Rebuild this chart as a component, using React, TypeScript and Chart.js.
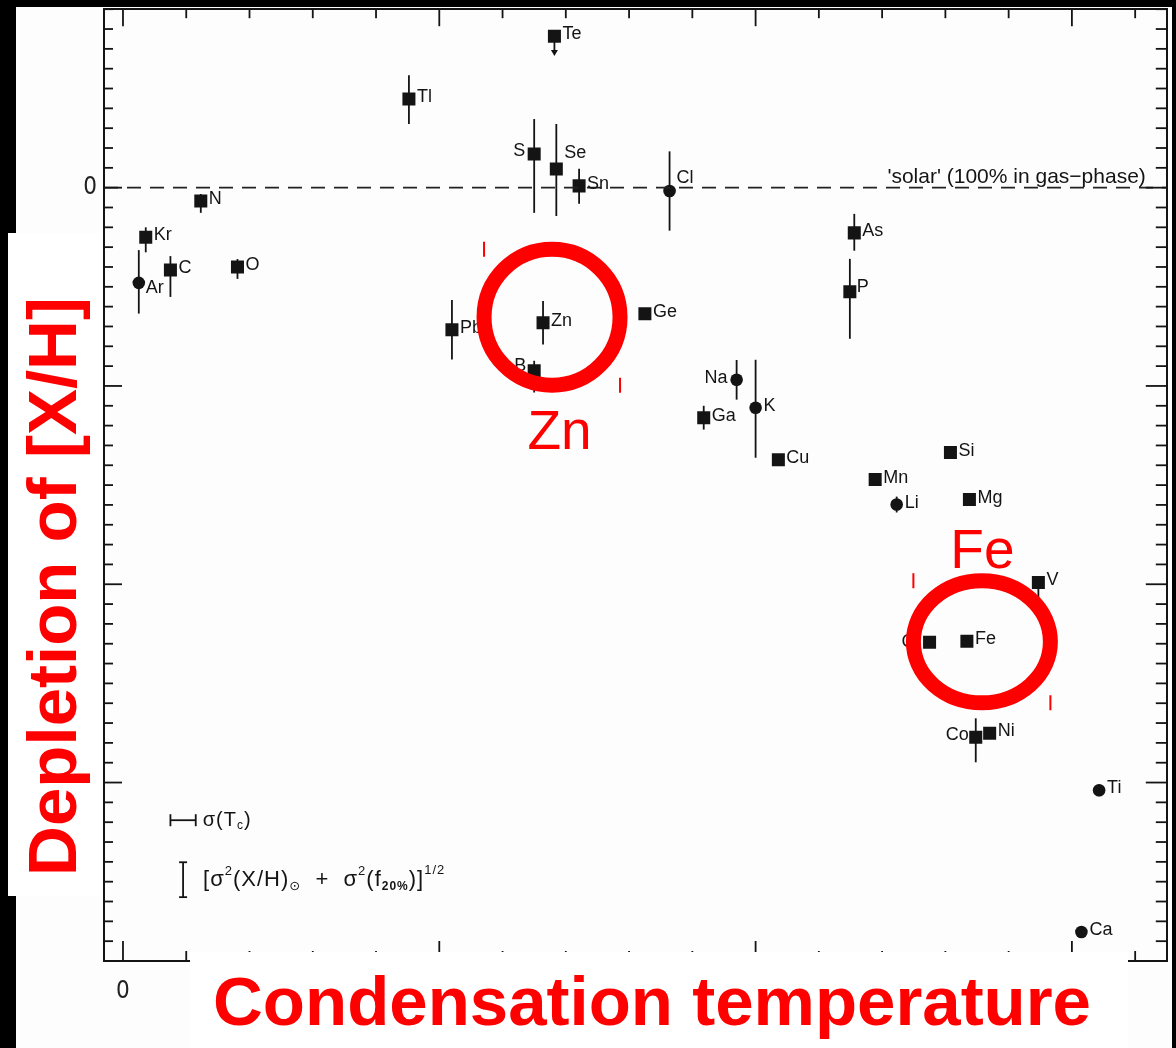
import React, { useEffect, useRef } from 'react';
import { Chart, registerables } from 'chart.js';

Chart.register(...registerables);

// ---------------- data ----------------
const elements = ['Kr', 'Ar', 'C', 'N', 'O', 'Tl', 'Te', 'S', 'Se', 'Sn', 'Cl', 'Pb', 'Zn', 'B', 'Ge', 'Na', 'K', 'Ga', 'Cu', 'As', 'P', 'Mn', 'Li', 'Si', 'Mg', 'V', 'Cr', 'Fe', 'Co', 'Ni', 'Ti', 'Ca'];
const condensationTemp = [36, 25, 75, 123, 181, 452, 682, 650, 685, 721, 864, 520, 664, 650, 825, 970, 1000, 918, 1036, 1156, 1149, 1189, 1223, 1308, 1338, 1447, 1275, 1334, 1348, 1370, 1543, 1515];
const depletion = [-0.25, -0.48, -0.415, -0.067, -0.4, 0.447, 0.764, 0.17, 0.094, 0.009, -0.017, -0.717, -0.681, -0.923, -0.636, -0.969, -1.11, -1.16, -1.372, -0.228, -0.525, -1.472, -1.598, -1.336, -1.573, -1.991, -2.293, -2.288, -2.772, -2.752, -3.039, -3.754];
const errorUp = [0.05, 0.165, 0.07, 0.035, 0.04, 0.12, 0, 0.176, 0.227, 0.086, 0.2, 0.15, 0.11, 0.05, 0, 0.1, 0.242, 0.06, 0, 0.096, 0.166, 0, 0.04, 0, 0, 0, 0, 0, 0.096, 0, 0.03, 0.03];
const errorDown = [0.076, 0.155, 0.136, 0.06, 0.06, 0.126, 0, 0.297, 0.237, 0.09, 0.2, 0.15, 0.11, 0.11, 0, 0.1, 0.252, 0.06, 0, 0.09, 0.237, 0, 0.04, 0, 0, 0.08, 0, 0, 0.126, 0, 0.03, 0.03];
const markerShape = ['rect', 'circle', 'rect', 'rect', 'rect', 'rect', 'rect', 'rect', 'rect', 'rect', 'circle', 'rect', 'rect', 'rect', 'rect', 'circle', 'circle', 'rect', 'rect', 'rect', 'rect', 'rect', 'circle', 'rect', 'rect', 'rect', 'rect', 'rect', 'rect', 'rect', 'circle', 'circle'];
const upperLimitElements = ['Te'];
const upperLimitArrow = 0.1;

// representative error bars shown in the key
const keyTemp = 95;
const keyTcSigma = 20;
const keyTcBarDepletion = -3.19;
const keyDepBarDepletion = -3.49;
const keyDepSigma = 0.088;

// axes
const xRange = [-30, 1650];
const yRange = [-3.9, 0.9];
const xTickLabels = [0];
const yTickLabels = [0];
const xMajorTicks = [0, 500, 1000, 1500];
const xMinorTicks = [0, 100, 200, 300, 400, 500, 600, 700, 800, 900, 1000, 1100, 1200, 1300, 1400, 1500, 1600];
const yMajorTicks = [0, -1, -2, -3];
const yMinorTicks = Array.from({ length: 49 }, (_, i) => Math.round((0.9 - i * 0.1) * 10) / 10);

const solarLabel = "'solar' (100% in gas\u2212phase)";
const xTitle = 'Condensation temperature';
const yTitle = 'Depletion of [X/H]';

// ---------------- styling / placement ----------------
const W = 1176;
const H = 1048;
const textFont = '"Liberation Sans", "DejaVu Sans", sans-serif';
const tickFont = '"Liberation Sans Narrow", "DejaVu Sans Condensed", "Liberation Sans", sans-serif';
const INK = '#141414';
const RED = '#ff0000';

const labelPlacement: Record<string, { dx: number; dy: number; align: CanvasTextAlign }> = {
  Ar: { dx: 7, dy: 5, align: 'left' },
  S: { dx: -9, dy: -3, align: 'right' },
  Se: { dx: 8, dy: -16, align: 'left' },
  Cl: { dx: 7, dy: -13, align: 'left' },
  B: { dx: -8, dy: -5, align: 'right' },
  Na: { dx: -9, dy: -2, align: 'right' },
  P: { dx: 7, dy: -5, align: 'left' },
  Cr: { dx: -9, dy: 0, align: 'right' },
  Co: { dx: -7, dy: -2, align: 'right' },
};
const defaultPlacement = { dx: 8, dy: -2, align: 'left' as CanvasTextAlign };

const highlights = [
  { element: 'Zn', ringDx: 9, ringDy: -5.5, rx: 68, ry: 68, textDx: 16.5, textBaseDy: 126 },
  { element: 'Fe', ringDx: 15, ringDy: 0.5, rx: 68.5, ry: 61, textDx: 15.5, textBaseDy: -73 },
];

function drawRich(ctx: CanvasRenderingContext2D, x: number, y: number, segs: { t: string; size: number; dy?: number; bold?: boolean }[]) {
  let cx = x;
  ctx.textAlign = 'left';
  ctx.textBaseline = 'middle';
  for (const s of segs) {
    ctx.font = `${s.bold ? 'bold ' : ''}${s.size}px ${textFont}`;
    ctx.fillText(s.t, cx, y + (s.dy || 0));
    cx += ctx.measureText(s.t).width;
  }
}

const figurePlugin = {
  id: 'figurePlugin',
  beforeDraw(chart: any) {
    const ctx = chart.ctx;
    ctx.save();
    ctx.fillStyle = '#fdfdfd';
    ctx.fillRect(0, 0, W, H);
    ctx.restore();
  },
  beforeDatasetsDraw(chart: any) {
    const ctx: CanvasRenderingContext2D = chart.ctx;
    const xs = chart.scales.x;
    const ys = chart.scales.y;
    ctx.save();
    ctx.strokeStyle = INK;
    ctx.fillStyle = INK;
    ctx.lineWidth = 1.8;
    elements.forEach((el, i) => {
      const px = xs.getPixelForValue(condensationTemp[i]);
      if (errorUp[i] > 0 || errorDown[i] > 0) {
        ctx.beginPath();
        ctx.moveTo(px, ys.getPixelForValue(depletion[i] + errorUp[i]));
        ctx.lineTo(px, ys.getPixelForValue(depletion[i] - errorDown[i]));
        ctx.stroke();
      }
      if (upperLimitElements.includes(el)) {
        const y0 = ys.getPixelForValue(depletion[i]);
        const y1 = ys.getPixelForValue(depletion[i] - upperLimitArrow);
        ctx.beginPath();
        ctx.moveTo(px, y0);
        ctx.lineTo(px, y1 - 4);
        ctx.stroke();
        ctx.beginPath();
        ctx.moveTo(px - 3.5, y1 - 6);
        ctx.lineTo(px + 3.5, y1 - 6);
        ctx.lineTo(px, y1);
        ctx.closePath();
        ctx.fill();
      }
    });
    ctx.restore();
  },
  afterDatasetsDraw(chart: any) {
    const ctx: CanvasRenderingContext2D = chart.ctx;
    const xs = chart.scales.x;
    const ys = chart.scales.y;
    const area = chart.chartArea;
    ctx.save();
    // element labels
    ctx.fillStyle = INK;
    ctx.font = `18px ${textFont}`;
    ctx.textBaseline = 'middle';
    elements.forEach((el, i) => {
      const p = labelPlacement[el] || defaultPlacement;
      const px = xs.getPixelForValue(condensationTemp[i]);
      const py = ys.getPixelForValue(depletion[i]);
      ctx.textAlign = p.align;
      ctx.fillText(el, px + p.dx, py + p.dy);
    });

    // inward tick marks on all four sides
    ctx.strokeStyle = INK;
    const tick = (x1: number, y1: number, x2: number, y2: number, w: number) => {
      ctx.lineWidth = w;
      ctx.beginPath();
      ctx.moveTo(x1, y1);
      ctx.lineTo(x2, y2);
      ctx.stroke();
    };
    xMinorTicks.forEach((v) => {
      const px = xs.getPixelForValue(v);
      const major = xMajorTicks.includes(v);
      tick(px, area.top, px, area.top + (major ? 17 : 9), 1.8);
      tick(px, area.bottom, px, area.bottom - (major ? 20 : 10), 1.8);
    });
    yMinorTicks.forEach((v) => {
      const py = ys.getPixelForValue(v);
      const major = yMajorTicks.includes(v);
      tick(area.left, py, area.left + (major ? 18 : 9), py, 1.8);
      tick(area.right, py, area.right - (major ? 21 : 11), py, 1.8);
    });

    // 'solar' label on the dashed line
    ctx.fillStyle = INK;
    ctx.font = `21px ${textFont}`;
    ctx.textAlign = 'right';
    ctx.textBaseline = 'middle';
    ctx.fillText(solarLabel, area.right - 21, ys.getPixelForValue(0) - 10);

    // key: representative error bars
    const kx = xs.getPixelForValue(keyTemp);
    const kx1 = xs.getPixelForValue(keyTemp - keyTcSigma);
    const kx2 = xs.getPixelForValue(keyTemp + keyTcSigma);
    const ky = ys.getPixelForValue(keyTcBarDepletion);
    tick(kx1, ky, kx2, ky, 1.8);
    tick(kx1, ky - 6, kx1, ky + 6, 1.8);
    tick(kx2, ky - 6, kx2, ky + 6, 1.8);
    (ctx as any).letterSpacing = '1px';
    drawRich(ctx, kx2 + 7, ky, [
      { t: '\u03c3(T', size: 20 },
      { t: 'c', size: 12, dy: 5 },
      { t: ')', size: 20 },
    ]);
    const vy1 = ys.getPixelForValue(keyDepBarDepletion + keyDepSigma);
    const vy2 = ys.getPixelForValue(keyDepBarDepletion - keyDepSigma);
    tick(kx, vy1, kx, vy2, 1.8);
    tick(kx - 4, vy1, kx + 4, vy1, 1.8);
    tick(kx - 4, vy2, kx + 4, vy2, 1.8);
    drawRich(ctx, kx + 20, (vy1 + vy2) / 2, [
      { t: '[\u03c3', size: 22 },
      { t: '2', size: 13, dy: -8 },
      { t: '(X/H)', size: 22 },
      { t: '\u2299', size: 13, dy: 7 },
      { t: '  +  \u03c3', size: 22 },
      { t: '2', size: 13, dy: -8 },
      { t: '(f', size: 22 },
      { t: '20%', size: 12, dy: 7, bold: true },
      { t: ')]', size: 22 },
      { t: '1/2', size: 13, dy: -9 },
    ]);
    (ctx as any).letterSpacing = '0px';
    ctx.restore();
  },
  afterDraw(chart: any) {
    const ctx: CanvasRenderingContext2D = chart.ctx;
    const xs = chart.scales.x;
    const ys = chart.scales.y;
    ctx.save();
    // scan borders
    ctx.fillStyle = '#000';
    ctx.fillRect(0, 0, W, 7);
    ctx.fillRect(0, 0, 16, 233);
    ctx.fillRect(0, 233, 8, 663);
    ctx.fillRect(0, 896, 16, H - 896);
    ctx.fillRect(W - 4, 0, 4, H);

    // pasted title boxes
    ctx.fillStyle = '#ffffff';
    ctx.fillRect(8, 233, 93, 663);
    ctx.fillRect(190, 952, 938, H - 952);

    ctx.fillStyle = RED;
    ctx.font = `bold 69px ${textFont}`;
    ctx.textAlign = 'center';
    ctx.textBaseline = 'alphabetic';
    ctx.fillText(xTitle, 652, 1025);

    ctx.save();
    ctx.translate(76, 586.5);
    ctx.rotate(-Math.PI / 2);
    ctx.fillText(yTitle, 0, 0);
    ctx.restore();

    // highlight rings
    highlights.forEach((h) => {
      const i = elements.indexOf(h.element);
      const px = xs.getPixelForValue(condensationTemp[i]);
      const py = ys.getPixelForValue(depletion[i]);
      const cx = px + h.ringDx;
      const cy = py + h.ringDy;
      ctx.strokeStyle = RED;
      ctx.lineWidth = 15;
      ctx.beginPath();
      ctx.ellipse(cx, cy, h.rx, h.ry, 0, 0, Math.PI * 2);
      ctx.stroke();
      ctx.lineWidth = 2;
      ctx.beginPath();
      ctx.moveTo(cx - h.rx, cy - h.ry - 7.5);
      ctx.lineTo(cx - h.rx, cy - h.ry + 7.5);
      ctx.moveTo(cx + h.rx, cy + h.ry - 7.5);
      ctx.lineTo(cx + h.rx, cy + h.ry + 7.5);
      ctx.stroke();
      ctx.fillStyle = RED;
      ctx.font = `55px ${textFont}`;
      ctx.textAlign = 'center';
      ctx.textBaseline = 'alphabetic';
      ctx.fillText(h.element, px + h.textDx, py + h.textBaseDy);
    });
    ctx.restore();
  },
};

const zeroPadding = (s: any) => {
  s.paddingTop = 0;
  s.paddingBottom = 0;
  s.paddingLeft = 0;
  s.paddingRight = 0;
};

export default function App() {
  const ref = useRef<HTMLCanvasElement>(null);

  useEffect(() => {
    const canvas = ref.current;
    if (!canvas) return;
    const axisBorder = { display: true, color: INK, width: 2 };
    const chart = new Chart(canvas, {
      type: 'scatter',
      data: {
        datasets: [
          {
            type: 'line',
            label: 'solar',
            data: [
              { x: xRange[0], y: 0 },
              { x: xRange[1], y: 0 },
            ],
            borderColor: '#222',
            borderWidth: 1.8,
            borderDash: [14, 9],
            pointRadius: 0,
            fill: false,
          } as any,
          {
            type: 'scatter',
            label: 'elements',
            data: elements.map((_, i) => ({ x: condensationTemp[i], y: depletion[i] })),
            pointStyle: markerShape as any,
            pointRadius: markerShape.map((s) => (s === 'rect' ? 9.2 : 6.3)),
            backgroundColor: INK,
            borderColor: INK,
            borderWidth: 0,
          } as any,
        ],
      },
      options: {
        responsive: false,
        animation: false,
        devicePixelRatio: 1,
        layout: { padding: 0 },
        plugins: {
          legend: { display: false },
          tooltip: { enabled: false },
        },
        scales: {
          x: {
            type: 'linear',
            position: 'bottom',
            min: xRange[0],
            max: xRange[1],
            afterBuildTicks: (s: any) => {
              s.ticks = xTickLabels.map((v) => ({ value: v }));
            },
            afterFit: (s: any) => {
              s.height = 87;
              zeroPadding(s);
            },
            grid: { display: false, drawTicks: false },
            border: axisBorder,
            ticks: {
              padding: 16,
              color: '#222',
              maxRotation: 0,
              autoSkip: false,
              font: { family: tickFont, size: 24 },
              callback: (v: any) => String(v),
            },
          },
          y: {
            type: 'linear',
            position: 'left',
            min: yRange[0],
            max: yRange[1],
            afterBuildTicks: (s: any) => {
              s.ticks = yTickLabels.map((v) => ({ value: v }));
            },
            afterFit: (s: any) => {
              s.width = 104;
              zeroPadding(s);
            },
            grid: { display: false, drawTicks: false },
            border: axisBorder,
            ticks: {
              padding: 7,
              color: '#222',
              autoSkip: false,
              font: { family: tickFont, size: 24 },
              callback: (v: any) => String(v),
            },
          },
          x2: {
            type: 'linear',
            position: 'top',
            min: xRange[0],
            max: xRange[1],
            afterFit: (s: any) => {
              s.height = 8;
              zeroPadding(s);
            },
            grid: { display: false, drawTicks: false },
            border: axisBorder,
            ticks: { display: false },
          },
          y2: {
            type: 'linear',
            position: 'right',
            min: yRange[0],
            max: yRange[1],
            afterFit: (s: any) => {
              s.width = 5;
              zeroPadding(s);
            },
            grid: { display: false, drawTicks: false },
            border: axisBorder,
            ticks: { display: false },
          },
        },
      } as any,
      plugins: [figurePlugin as any],
    });
    return () => chart.destroy();
  }, []);

  return (
    <div style={{ position: 'fixed', left: 0, top: 0, width: W, height: H, background: '#fdfdfd' }}>
      <canvas ref={ref} width={W} height={H} style={{ display: 'block', width: W, height: H }} />
    </div>
  );
}
